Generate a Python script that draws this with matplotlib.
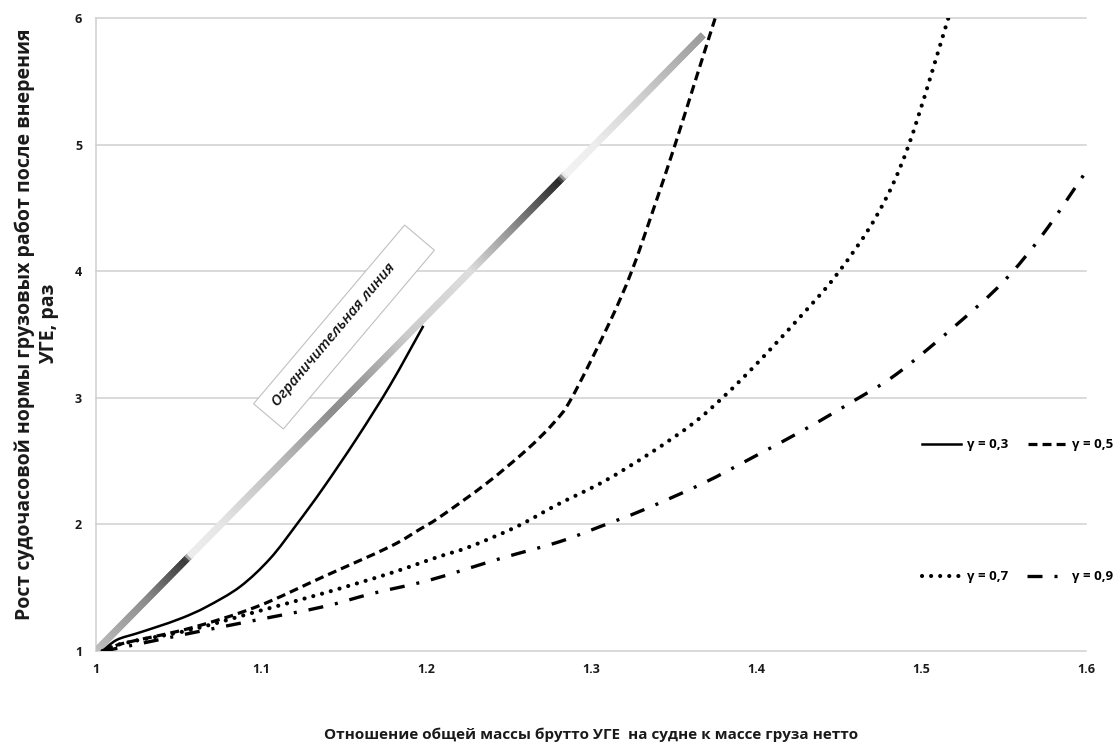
import numpy as np
import matplotlib
matplotlib.use('Agg')
import matplotlib.pyplot as plt
import matplotlib.transforms as mtransforms
from matplotlib.collections import LineCollection
from matplotlib.patches import Rectangle, PathPatch
from matplotlib.path import Path
from matplotlib.lines import Line2D

plt.rcParams['font.family'] = ['Open Sans', 'DejaVu Sans']

# ограничительная линия (начало и конец)
lim_x = [1.0, 1.368]
lim_y = [1.0, 5.87]

# гамма = 0,3
x_03 = [1.004, 1.0125, 1.025, 1.0368, 1.052, 1.0671, 1.0873, 1.1055, 1.1216, 1.1378, 1.158, 1.1782, 1.1984]
y_03 = [1.0, 1.087, 1.14, 1.19, 1.26, 1.35, 1.508, 1.73, 2.0, 2.29, 2.68, 3.1, 3.57]

# гамма = 0,5
x_05 = [1.004, 1.0165, 1.057, 1.0974, 1.1378, 1.1782, 1.196, 1.2085, 1.2368, 1.261, 1.2772, 1.2883,
        1.311, 1.3246, 1.3378, 1.3509, 1.364, 1.3752]
y_05 = [1.0, 1.06, 1.18, 1.35, 1.587, 1.825, 1.96, 2.06, 2.326, 2.59, 2.80, 3.0,
        3.59, 4.0, 4.49, 5.0, 5.54, 6.0]

# гамма = 0,7
x_07 = [1.004, 1.0165, 1.057, 1.0974, 1.1378, 1.1782, 1.2065, 1.2267, 1.255, 1.2792, 1.3075, 1.3358,
        1.362, 1.3812, 1.4004, 1.4267, 1.4489, 1.4731, 1.4923, 1.5165]
y_07 = [1.0, 1.06, 1.166, 1.311, 1.456, 1.614, 1.74, 1.825, 1.983, 2.154, 2.338, 2.563,
        2.80, 3.02, 3.27, 3.64, 3.975, 4.44, 4.99, 6.0]

# гамма = 0,9
x_09 = [1.004, 1.0165, 1.057, 1.0974, 1.1378, 1.168, 1.2024, 1.2449, 1.281, 1.3055, 1.3317, 1.368,
        1.398, 1.4307, 1.457, 1.4853, 1.5216, 1.55, 1.5742, 1.6]
y_09 = [1.0, 1.03, 1.14, 1.245, 1.35, 1.456, 1.561, 1.73, 1.864, 1.983, 2.115, 2.326,
        2.53, 2.76, 2.96, 3.19, 3.58, 3.92, 4.30, 4.79]

x_ticks = [1.0, 1.1, 1.2, 1.3, 1.4, 1.5, 1.6]
x_tick_labels = ['1', '1.1', '1.2', '1.3', '1.4', '1.5', '1.6']
y_ticks = [1, 2, 3, 4, 5, 6]
y_tick_labels = ['1', '2', '3', '4', '5', '6']

legend_labels = ['γ = 0,3', 'γ = 0,5', 'γ = 0,7', 'γ = 0,9']


def smooth_path(x, y):
    # сглаженная линия (кривые Безье через точки, как в Excel)
    p = np.column_stack([x, y])
    n = len(p)
    verts = [p[0]]
    codes = [Path.MOVETO]
    for i in range(n - 1):
        p0 = p[i - 1] if i > 0 else p[i]
        p1 = p[i]
        p2 = p[i + 1]
        p3 = p[i + 2] if i + 2 < n else p[i + 1]
        verts += [p1 + (p2 - p0) / 6, p2 - (p3 - p1) / 6, p2]
        codes += [Path.CURVE4] * 3
    return Path(verts, codes)


fig = plt.figure(figsize=(11.15, 7.51), dpi=100)
ax = fig.add_axes([0.0861, 0.1332, 0.8879, 0.8422])
ax.set_xlim(1.0, 1.6)
ax.set_ylim(1.0, 6.0)

ax.set_xticks(x_ticks)
ax.set_xticklabels(x_tick_labels)
ax.set_yticks(y_ticks)
ax.set_yticklabels(y_tick_labels)
ax.tick_params(length=0, labelsize=9, labelcolor='#1a1a1a')
ax.tick_params(axis='x', pad=9)
ax.tick_params(axis='y', pad=10)
for lab in ax.get_xticklabels() + ax.get_yticklabels():
    lab.set_fontweight('bold')

ax.yaxis.grid(True, color='#d0d0d0', lw=1.1)
for gl in ax.get_ygridlines():
    gl.set_clip_on(False)
ax.set_axisbelow(True)
for side in ['top', 'right', 'bottom']:
    ax.spines[side].set_visible(False)
ax.spines['left'].set_color('#d0d0d0')
ax.spines['left'].set_linewidth(1.1)

# градиентная заливка ограничительной линии: (уровень по оси y, оттенок серого)
grad_y = [1.0, 1.4, 1.72, 1.75, 2.0, 2.5, 2.9, 3.1, 3.5, 4.0, 4.3, 4.72, 4.76, 5.0, 5.4, 5.87]
grad_g = [0.75, 0.55, 0.22, 0.93, 0.9, 0.72, 0.55, 0.6, 0.8, 0.87, 0.6, 0.15, 0.95, 0.93, 0.8, 0.6]

n = 300
t = np.linspace(0, 1, n + 1)
t_end = np.minimum(t[1:] + 0.004, 1.0)
xs = lim_x[0] + (lim_x[1] - lim_x[0]) * t
ys = lim_y[0] + (lim_y[1] - lim_y[0]) * t
xe = lim_x[0] + (lim_x[1] - lim_x[0]) * t_end
ye = lim_y[0] + (lim_y[1] - lim_y[0]) * t_end
segs = np.stack([np.column_stack([xs[:-1], ys[:-1]]), np.column_stack([xe, ye])], axis=1)
g = np.interp((ys[:-1] + ys[1:]) / 2, grad_y, grad_g)
lc = LineCollection(segs, colors=[(v, v, v) for v in g], linewidths=5, capstyle='butt', zorder=3)
ax.add_collection(lc)

# подпись ограничительной линии в рамке
box_tr = (mtransforms.Affine2D().rotate_deg(49.8) + fig.dpi_scale_trans
          + mtransforms.ScaledTranslation(1.1503, 3.561, ax.transData))
ax.add_patch(Rectangle((-1.17, -0.195), 2.34, 0.39, transform=box_tr,
                       facecolor='white', edgecolor='#c0c0c0', lw=0.8, zorder=2))
ax.text(1.1442, 3.498, 'Ограничительная линия', rotation=49.8, rotation_mode='anchor',
        ha='center', va='center', fontsize=10.8, fontstyle='italic', fontweight='semibold',
        color='#111111', zorder=4)

# кривые для разных гамма
styles = [
    dict(lw=1.8, linestyle='-', capstyle='butt'),
    dict(lw=2.3, linestyle=(0, (2.8, 1.6)), capstyle='butt'),
    dict(lw=3.0, linestyle=(0, (0.01, 2.17)), capstyle='round'),
    dict(lw=2.4, linestyle=(0, (4.5, 3.6, 0.9, 3.6)), capstyle='butt'),
]
series = [(x_03, y_03), (x_05, y_05), (x_07, y_07), (x_09, y_09)]
handles = []
for (sx, sy), st, lab in zip(series, styles, legend_labels):
    ax.add_patch(PathPatch(smooth_path(sx, sy), facecolor='none', edgecolor='black',
                           lw=st['lw'], linestyle=st['linestyle'], capstyle=st['capstyle'],
                           joinstyle='round', zorder=5))
    handles.append(Line2D([], [], color='black', lw=st['lw'], linestyle=st['linestyle'],
                          dash_capstyle=st['capstyle'], label=lab))

leg_kw = dict(loc='center left', ncol=2, frameon=False, borderpad=0,
              borderaxespad=0, handlelength=3.0, handletextpad=0.4, columnspacing=1.5,
              prop={'weight': 'bold', 'size': 9.5})
leg1 = ax.legend(handles=handles[:2], bbox_to_anchor=(0.834, 0.3257), **leg_kw)
ax.add_artist(leg1)
ax.legend(handles=handles[2:], bbox_to_anchor=(0.834, 0.117), **leg_kw)

fig.text(0.033, 0.5686, 'Рост судочасовой нормы грузовых работ после внерения\nУГЕ, раз',
         rotation=90, ha='center', va='center', multialignment='center',
         fontsize=14, fontweight='bold', linespacing=1.25, color='#1a1a1a')
fig.text(0.530, 0.0213, 'Отношение общей массы брутто УГЕ  на судне к массе груза нетто',
         ha='center', va='center', fontsize=11, fontweight='bold', color='#1a1a1a')

fig.savefig('out.png', dpi=100)
